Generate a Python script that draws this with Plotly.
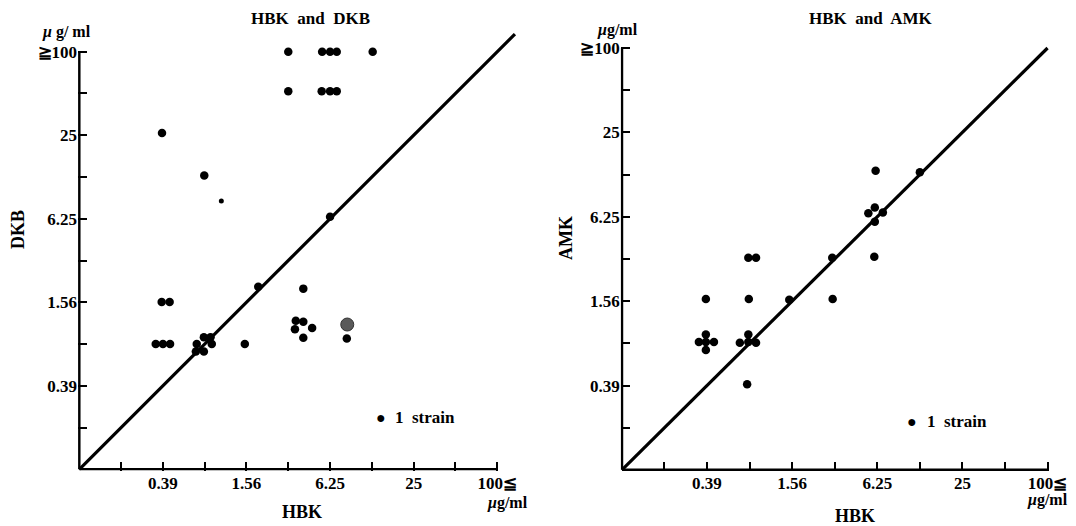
import plotly.graph_objects as go

# ---------------- data (µg/ml, positions) ----------------
AXIS_MIN = 0.0977
TICK_VALUES = [0.195, 0.39, 0.78, 1.56, 3.125, 6.25, 12.5, 25, 50, 100]
X_TICK_TEXT = ["", "0.39", "", "1.56", "", "6.25", "", "25", "", "100≦"]
Y_TICK_TEXT = ["", "0.39", "", "1.56", "", "6.25", "", "25", "", "≧100"]

# Panel 1: HBK vs DKB
dkb_hbk = [3.125, 5.48, 6.25, 6.98, 12.67,
           3.125, 5.44, 6.25, 6.98,
           0.385, 0.776, 6.25, 1.9, 4.01,
           0.383, 0.437,
           0.347, 0.391, 0.44,
           0.685, 0.771, 0.861, 0.879, 0.771, 0.675,
           1.52,
           3.54, 4.01, 3.49, 4.64, 4.01,
           8.25]
dkb_val = [100, 100, 100, 100, 100,
           51.8, 51.8, 51.8, 51.8,
           25.9, 12.8, 6.45, 2.02, 1.96,
           1.57, 1.57,
           0.781, 0.781, 0.781,
           0.781, 0.873, 0.873, 0.781, 0.689, 0.689,
           0.781,
           1.15, 1.13, 1.0, 1.02, 0.867,
           0.855]
dkb_small_hbk = [1.03]
dkb_small_val = [8.4]
dkb_blob_hbk = [8.31]
dkb_blob_val = [1.08]

# Panel 2: HBK vs AMK
amk_hbk = [6.08, 12.5,
           6.0, 5.40, 6.84, 6.0,
           5.95, 3.0, 1.49, 3.02,
           0.765, 0.867,
           0.383, 0.771,
           0.383, 0.342, 0.383, 0.437, 0.383,
           0.765, 0.666, 0.765, 0.867,
           0.75]
amk_val = [13.3, 13.0,
           7.28, 6.61, 6.70, 5.75,
           3.235, 3.19, 1.595, 1.617,
           3.19, 3.19,
           1.617, 1.617,
           0.904, 0.798, 0.798, 0.798, 0.70,
           0.904, 0.787, 0.798, 0.787,
           0.399]

diag_left_end = 134
diag_right_end = 100

# ---------------- figure ----------------
import math
W, H = 1076, 526
OFF = 8  # page body margin
L2 = math.log10(2)
lo = math.log10(AXIS_MIN)
RANGE = [lo - 0.03 * L2, lo + 10.45 * L2]

FONT = "Liberation Serif"

fig = go.Figure()

def add_panel(xa, ya, hbk, other, dend):
    # axes lines from lowest value to the last tick
    fig.add_trace(go.Scatter(x=[AXIS_MIN, TICK_VALUES[-1]], y=[AXIS_MIN, AXIS_MIN], mode="lines",
                             line=dict(color="black", width=2.5), xaxis=xa, yaxis=ya,
                             showlegend=False, hoverinfo="skip"))
    fig.add_trace(go.Scatter(x=[AXIS_MIN, AXIS_MIN], y=[AXIS_MIN, TICK_VALUES[-1]], mode="lines",
                             line=dict(color="black", width=2.5), xaxis=xa, yaxis=ya,
                             showlegend=False, hoverinfo="skip"))
    fig.add_trace(go.Scatter(x=[AXIS_MIN, dend], y=[AXIS_MIN, dend], mode="lines",
                             line=dict(color="black", width=3.2), xaxis=xa, yaxis=ya,
                             showlegend=False, hoverinfo="skip"))
    fig.add_trace(go.Scatter(x=hbk, y=other, mode="markers",
                             marker=dict(color="black", size=8.5, line=dict(width=0)),
                             xaxis=xa, yaxis=ya, showlegend=False, cliponaxis=False))

add_panel("x", "y", dkb_hbk, dkb_val, diag_left_end)
fig.add_trace(go.Scatter(x=dkb_small_hbk, y=dkb_small_val, mode="markers",
                         marker=dict(color="black", size=5), xaxis="x", yaxis="y", showlegend=False))
fig.add_trace(go.Scatter(x=dkb_blob_hbk, y=dkb_blob_val, mode="markers",
                         marker=dict(color="#5a5a5a", size=13, line=dict(color="#333", width=1)),
                         xaxis="x", yaxis="y", showlegend=False))
add_panel("x2", "y2", amk_hbk, amk_val, diag_right_end)

axis_common = dict(type="log", range=RANGE, tickvals=TICK_VALUES, ticks="inside",
                   ticklen=9, tickwidth=2, tickcolor="black", showgrid=False,
                   zeroline=False, showline=False, automargin=False,
                   tickfont=dict(family=FONT, size=17, color="black", weight="bold"))

def dom(a, b, size, flip=False):
    a -= OFF
    b -= OFF
    if flip:
        return [(size - a) / size, (size - b) / size]
    return [a / size, b / size]

fig.update_layout(
    width=W, height=H, paper_bgcolor="white", plot_bgcolor="white",
    margin=dict(l=0, r=0, t=0, b=0, autoexpand=False),
    xaxis=dict(domain=dom(78.05, 516.1, W), anchor="y", ticktext=X_TICK_TEXT, **axis_common),
    yaxis=dict(domain=dom(470.55, 32.9, H, True), anchor="x", ticktext=Y_TICK_TEXT, **axis_common),
    xaxis2=dict(domain=dom(620.7, 1066.75, W), anchor="y2", ticktext=X_TICK_TEXT, **axis_common),
    yaxis2=dict(domain=dom(471.07, 29.0, H, True), anchor="x2", ticktext=Y_TICK_TEXT, **axis_common),
)

def txt(x, y, s, size=17, angle=0, xanchor="center"):
    fig.add_annotation(x=(x - OFF) / W, y=1 - (y - OFF) / H, xref="paper", yref="paper", text=s,
                       showarrow=False, textangle=angle, xanchor=xanchor, yanchor="middle",
                       font=dict(family=FONT, size=size, color="black", weight="bold"))

txt(310, 18, "HBK  and  DKB", 17)
txt(871, 18, "HBK  and  AMK", 17)
txt(66, 32, "<i>μ</i> g/ ml", 16)
txt(617, 30, "<i>μ</i>g/ml", 16)
txt(18, 230, "DKB", 18, -90)
txt(566, 238, "AMK", 18, -90)
txt(302, 512, "HBK", 18)
txt(855, 516, "HBK", 18)
txt(507, 503, "<i>μ</i>g/ml", 16)
txt(1047, 500, "<i>μ</i>g/ml", 16)

# "1 strain" keys
txt(381, 417, "●", 16)
txt(393, 417, "1  strain", 17, xanchor="left")
txt(912, 421, "●", 16)
txt(925, 421, "1  strain", 17, xanchor="left")

fig.write_html("out.html")
